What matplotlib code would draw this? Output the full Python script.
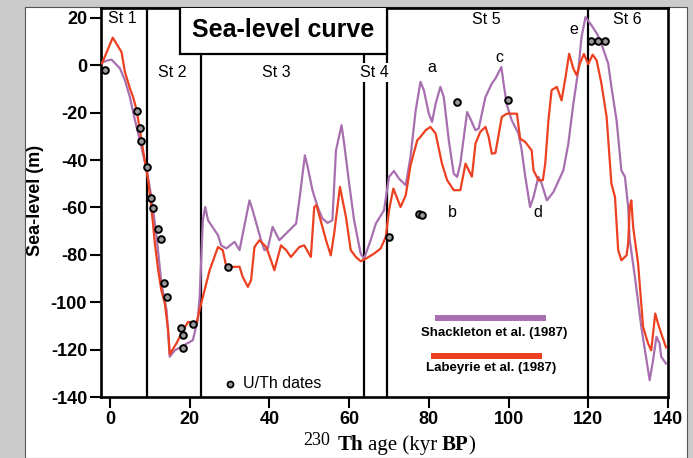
import numpy as np
import matplotlib
matplotlib.use("Agg")
import matplotlib.pyplot as plt
from matplotlib.patches import Rectangle

plt.rcParams["axes.unicode_minus"] = False

# Shackleton et al. (1987) - purple
shack_age = [-2.5, -0.8, 0.4, 2.5, 3.75, 5, 6.25, 7.9, 9.2, 10.4, 11.7, 12.9, 14.2, 15,
             16.25, 18.75, 20.8, 22, 22.5, 23.3, 23.9, 24.6, 27.1, 27.9, 29.2, 31.25, 32.5,
             35, 35.8, 37.9, 38.75, 39.6, 40.8, 42.5, 46.7, 47.5, 48.9, 49.6, 50.8, 52.1,
             53.3, 54.6, 55.8, 56.7, 58.1, 58.75, 60, 61.25, 62.9, 63.75, 65.4, 66.7, 68.75,
             70, 71.25, 72.5, 74.2, 75.4, 76.7, 77.9, 78.75, 80, 80.8, 81.7, 82.9, 83.75, 85,
             86.25, 87.1, 87.9, 89.6, 90.4, 91.7, 92.5, 94.2, 95.8, 96.7, 98.2, 98.75, 99.6,
             100.8, 102.5, 103.3, 104.2, 105.4, 106.25, 107.5, 108.3, 109.6, 111.25, 113.75,
             115, 116.25, 117.5, 118.3, 119.3, 120.8, 122.3, 123.3, 125, 125.8, 127.1, 128.3,
             129.2, 130, 130.4, 131.7, 133.3, 135.4, 136.25, 137.1, 137.9, 138.3, 139.5]
shack_sl = [0.8, 2, 2.4, -1.3, -6.3, -13.4, -23, -34.5, -44.3, -55.6, -72.4, -92, -103.4, -123,
            -120.3, -118, -116, -107.6, -97.8, -65.4, -59.8, -65.4, -71.7, -76, -77.3, -74.5, -78,
            -57, -61.2, -73.8, -78, -77.3, -68.2, -73.8, -66.8, -57, -38, -42.9, -52.7, -59.8,
            -64.7, -66.5, -65.4, -35.9, -25.3, -33, -49.8, -65.4, -79.5, -81.6, -73.8, -66.8, -61.2,
            -47.1, -44.6, -47.8, -50.6, -38.7, -19, -7, -10.5, -20.4, -23.9, -16.2, -9.1, -13.4, -31.6,
            -45.7, -47.1, -41.5, -19.7, -22.5, -27.4, -26.7, -13.4, -7.7, -5.6, -0.7, -7.7, -16.9,
            -23.2, -28.8, -35.9, -47.1, -59.8, -55.6, -47.1, -49.9, -57, -53.5, -44.3,
            -33, -16.2, -2.1, 11.9, 20.4, 16.9, 13, 9.1, 0.7, -9.1, -23.2, -44.3,
            -47.1, -59.8, -73.8, -89.3, -110.4, -132.9, -124.5, -114.6, -117.4, -123, -125.9]

# Labeyrie et al. (1987) - red
lab_age = [-2, 0.7, 2.9, 3.75, 5, 5.8, 6.7, 8.3, 9.6, 10.8, 11.25, 12.1, 12.9, 13.75, 14.6, 15,
           16.7, 18.3, 19.6, 21.7, 22.5, 23.3, 25, 27.1, 28.3, 29.2, 30.8, 32.5, 33.3, 34.6, 35.4,
           36.25, 37.5, 39.2, 40.4, 41.25, 42.9, 44.2, 45.4, 47.5, 48.75, 50.4, 51.25, 51.8, 53.3,
           54.2, 55.4, 56.25, 57.7, 59.2, 60.4, 61.7, 62.9, 64.2, 66.25, 67.9, 69.2, 70, 71.1, 72.9,
           74.2, 75.4, 77.1, 77.9, 79.2, 80.4, 81.7, 83.3, 84.6, 86.25, 87.9, 89.2, 90.8, 91.7,
           92.9, 94.2, 95, 95.8, 96.7, 98.3, 99.6, 102.1, 102.9, 104.2, 105.8, 106.25, 107.5, 108.6,
           109.2, 110, 110.8, 112.1, 113.3, 114.3, 115.2, 116.25, 117.1, 117.9, 118.9, 120, 121.1,
           122.1, 123.3, 124.6, 125.8, 126.7, 127.5, 128.3, 129.6, 130, 130.4, 130.8, 131.25, 132.5,
           133.75, 135, 135.8, 136.8, 137.5, 138.3, 139.5]
lab_sl = [0.8, 11.7, 5.6, -2.8, -9.7, -13.4, -19, -35.9, -48.5, -66.7, -75, -86.5, -95, -100.4, -111.8, -122,
          -117.3, -112, -108.3, -109, -103, -97.8, -86.5, -76.7, -78, -85.1, -85.1, -85, -89.3, -93.5, -90.7,
          -76.7, -73.8, -76.7, -82.3, -86.5, -76, -78, -80.9, -76.7, -76, -80.9, -59.8, -59, -68.2,
          -73.8, -80.2, -71, -51.3, -64, -78, -80.9, -82.7, -81.6, -79.5, -77.3, -72.4, -61.2, -52, -59.8,
          -54.9, -42.2, -31.6, -30.2, -27.4, -26, -28.8, -41.5, -48.5, -52.7, -52.7, -41.5, -47, -33,
          -28.1, -26, -30.2, -37.3, -37, -21.8, -20.4, -20.4, -30.9, -32.4, -35.9, -44.3, -48.5, -48.5,
          -41.5, -23.2, -10.5, -9.1, -14.8, -4.9, 4.9, -1.4, -4.2, 0.7, 4.8, 0.5, 4.5,
          2.1, -7.7, -21.8, -49.9, -55.6, -78, -82.3, -80.2, -75.2, -59.8, -57, -68.2, -83.7,
          -110.4, -117.4, -120.3, -104.8, -109, -113.2, -119]

# U/Th dates
uth_age = [-1.25, 6.8, 7.5, 7.9, 9.4, 10.2, 10.8, 12.1, 12.75, 13.6, 14.2, 17.9, 18.2, 18.3, 20.9,
           29.6, 70, 77.5, 78.3, 87.1, 99.75, 120.8, 122.5, 124.2]
uth_sl = [-1.8, -19.3, -26.4, -32, -42.9, -55.8, -60.2, -68.9, -73.4, -91.8, -97.8, -110.8, -113.9,
          -119.5, -109.3, -85.1, -72.4, -62.6, -63, -15.5, -14.8, 10.3, 10.3, 10.3]

stage_bounds = [9.3, 22.8, 63.8, 69.5, 120]
stage_names = ["St 1", "St 2", "St 3", "St 4", "St 5", "St 6"]
peak_names = ["a", "b", "c", "d", "e"]

purple = "#a86fb0"
red = "#ec4020"

W, H = 693, 458
fig = plt.figure(figsize=(W / 100, H / 100), dpi=100)
fig.patch.set_facecolor("#cbcbcb")
fig.add_artist(Rectangle((25 / W, 0), (687 - 25) / W, 1 - 7 / H, transform=fig.transFigure,
                         facecolor="white", edgecolor="#555555", lw=0.8, zorder=-1))

ax = fig.add_axes([101 / W, 1 - 397 / H, (668 - 101) / W, (397 - 8) / H])
ax.set_xlim(-2.25, 139.5)
ax.set_ylim(-140, 24.2)

for x in stage_bounds:
    if x in (22.8, 63.8):
        ax.plot([x, x], [-140, 4.9], color="black", lw=1.6, zorder=2)
    else:
        ax.axvline(x, color="black", lw=1.6, zorder=2)

ax.plot(shack_age, shack_sl, color=purple, lw=1.6, zorder=3)
ax.plot(lab_age, lab_sl, color=red, lw=1.6, zorder=3)
ax.plot(uth_age, uth_sl, "o", ms=4.8, mfc="#9a9a9a", mec="black", mew=1.4, zorder=4)

# title box
ax.add_patch(Rectangle((17.56, 4.9), 69.5 - 17.56, 30, facecolor="white", edgecolor="black",
                       lw=1.6, zorder=5, clip_on=True))
ax.text(43.5, 14.8, "Sea-level curve", ha="center", va="center", fontsize=18,
        fontweight="bold", family="Liberation Sans", zorder=6)

sfont = dict(fontsize=11.5, family="Liberation Sans", ha="center", va="center", zorder=6)
st_pos = [(3, 19.8), (15.75, -3), (41.75, -3), (66.25, -3), (94.5, 19.4), (129.75, 19.4)]
for name, (x, y) in zip(stage_names, st_pos):
    t = ax.text(x, y, name, **sfont)
    if name == "St 4":
        t.set_bbox(dict(facecolor="white", edgecolor="none", pad=1.5))
pk_pos = [(80.75, -0.8), (86, -62), (97.75, 3.4), (107.25, -62), (116.25, 15.2)]
for name, (x, y) in zip(peak_names, pk_pos):
    ax.text(x, y, name, **sfont)

# U/Th legend
ax.plot([30], [-134.6], "o", ms=4.3, mfc="#9a9a9a", mec="black", mew=1.3)
ax.text(33.3, -134.4, "U/Th dates", fontsize=11.5, family="Liberation Sans", va="center")

# curve legend
ax.plot([81.5, 109.5], [-106.8, -106.8], color=purple, lw=4.3, solid_capstyle="butt")
ax.plot([80.5, 108.5], [-122.8, -122.8], color=red, lw=4.3, solid_capstyle="butt")
lfont = dict(fontsize=9.5, fontweight="bold", ha="center", va="center",
             family=["Liberation Sans Narrow", "Liberation Sans"])
ax.text(96.5, -112.8, "Shackleton et al. (1987)", **lfont)
ax.text(95.7, -127.9, "Labeyrie et al. (1987)", **lfont)

# axes styling
for s in ax.spines.values():
    s.set_linewidth(1.9)
ax.set_xticks([0, 20, 40, 60, 80, 100, 120, 140])
ax.set_yticks([-140, -120, -100, -80, -60, -40, -20, 0, 20])
ax.tick_params(direction="out", length=8, width=1.5, pad=2)
for lab in ax.get_xticklabels() + ax.get_yticklabels():
    lab.set_fontsize(13)
    lab.set_fontweight("bold")
    lab.set_family("Liberation Sans")

fig.text(36 / W, 1 - 200 / H, "Sea-level (m)", rotation=90, ha="center", va="center",
         fontsize=13, fontweight="bold", family="Liberation Sans")

# x label built from pieces (superscript 230, bold Th and BP)
r = fig.canvas.get_renderer()
fig.text(303 / W, 1 - 445 / H, "230", fontsize=13, family="Liberation Serif", va="baseline")
x = 338
pieces = [("Th", "bold", 4), ("age (kyr", "normal", 5), ("BP", "bold", 0), (")", "normal", 0)]
for s, wt, gap in pieces:
    t = fig.text(x / W, 1 - 450 / H, s, fontsize=15, fontweight=wt, family="Liberation Serif",
                 va="baseline")
    x += t.get_window_extent(renderer=r).width + gap

fig.savefig("out.png", dpi=100, facecolor=fig.get_facecolor())
